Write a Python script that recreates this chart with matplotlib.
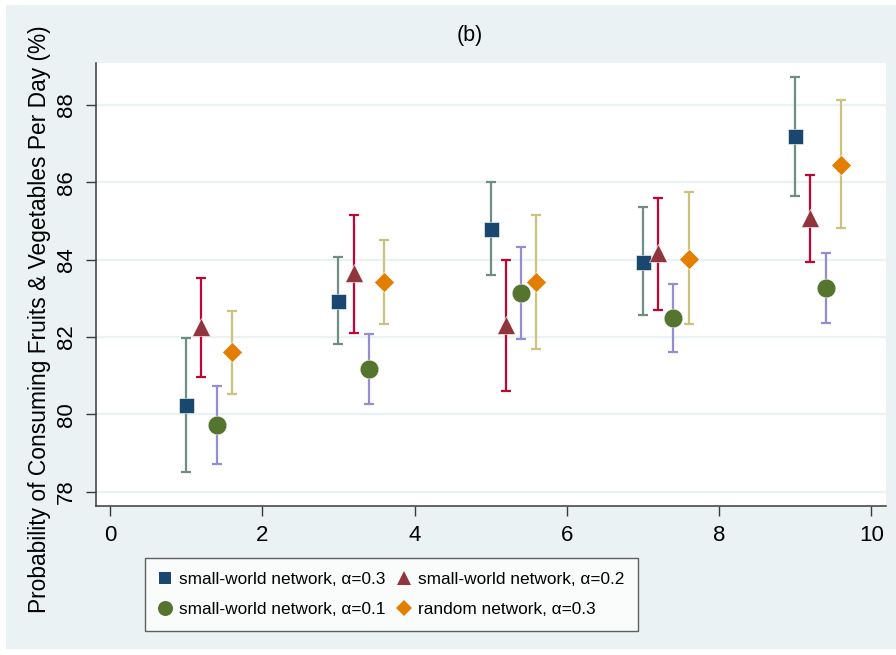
import matplotlib
matplotlib.use("Agg")
import matplotlib.pyplot as plt
from matplotlib.patches import Rectangle
from matplotlib.lines import Line2D
from matplotlib import font_manager
import numpy as np

plt.rcParams['font.family'] = ['Liberation Sans', 'DejaVu Sans']

# Simulation time points (x) for each network configuration
x_sw03 = [1, 3, 5, 7, 9]
x_sw02 = [1.2, 3.2, 5.2, 7.2, 9.2]
x_sw01 = [1.4, 3.4, 5.4, 7.4, 9.4]
x_rn03 = [1.6, 3.6, 5.6, 7.6, 9.6]

# Mean probability (%) and 95% CI bounds
y_sw03 = [80.24, 82.94, 84.80, 83.95, 87.19]
lo_sw03 = [78.50, 81.83, 83.60, 82.56, 85.65]
hi_sw03 = [81.98, 84.06, 86.01, 85.36, 88.72]

y_sw02 = [82.27, 83.65, 82.31, 84.17, 85.07]
lo_sw02 = [80.97, 82.11, 80.60, 82.70, 83.95]
hi_sw02 = [83.52, 85.16, 83.99, 85.60, 86.18]

y_sw01 = [79.73, 81.17, 83.15, 82.49, 83.27]
lo_sw01 = [78.72, 80.26, 81.94, 81.61, 82.36]
hi_sw01 = [80.74, 82.08, 84.32, 83.36, 84.17]

y_rn03 = [81.60, 83.43, 83.43, 84.03, 86.46]
lo_rn03 = [80.52, 82.34, 81.70, 82.34, 84.81]
hi_rn03 = [82.68, 84.50, 85.15, 85.75, 88.12]

labels = ["small-world network, \u03b1=0.3", "small-world network, \u03b1=0.2",
          "small-world network, \u03b1=0.1", "random network, \u03b1=0.3"]

xticks = [0, 2, 4, 6, 8, 10]
yticks = [78, 80, 82, 84, 86, 88]

# Legend uses a condensed face when one is installed
installed = {f.name for f in font_manager.fontManager.ttflist}
has_narrow = 'Liberation Sans Narrow' in installed
legend_family = ['Liberation Sans Narrow', 'Liberation Sans'] if has_narrow else ['Liberation Sans']
legend_size = 14.5 if has_narrow else 12.4

BG = "#EAF2F3"
W, H = 896, 655
fig = plt.figure(figsize=(W / 100, H / 100), dpi=100)
fig.patch.set_facecolor("white")
fig.patches.append(Rectangle((6 / W, 6 / H), 1 - 6 / W, 1 - 11 / H,
                             transform=fig.transFigure, facecolor=BG,
                             edgecolor="none", zorder=-10))

ax = fig.add_axes([95.7 / W, 1 - 505.7 / H, (886 - 95.7) / W, (505.7 - 62.7) / H])
ax.set_facecolor("white")
ax.set_xlim(-0.188, 10.193)
ax.set_ylim(77.638, 89.094)

for s in ("top", "right"):
    ax.spines[s].set_visible(False)
for s in ("left", "bottom"):
    ax.spines[s].set_color("#3a3a3a")
    ax.spines[s].set_linewidth(1.1)

ax.set_xticks(xticks)
ax.set_yticks(yticks)
ax.tick_params(axis="both", direction="out", length=7.2, width=1.0, color="#3a3a3a",
               labelsize=16, labelcolor="black")
ax.tick_params(axis="y", labelrotation=90, pad=6.5)
for lab in ax.get_yticklabels():
    lab.set_va("center")
ax.tick_params(axis="x", pad=7)
ax.grid(axis="y", color=BG, linewidth=1.6)
ax.set_axisbelow(True)

series = [
    (x_sw03, y_sw03, lo_sw03, hi_sw03, "s", "#1a476f", "#6e8e84", 10.8),
    (x_sw02, y_sw02, lo_sw02, hi_sw02, "^", "#90353b", "#c10534", 13.0),
    (x_sw01, y_sw01, lo_sw01, hi_sw01, "o", "#55752f", "#938dd2", 13.5),
    (x_rn03, y_rn03, lo_rn03, hi_rn03, "D", "#e37e00", "#cac27e", 10.4),
]

handles = []
for (xs, ys, lo, hi, mk, mc, ec, ms), lab in zip(series, labels):
    ys = np.array(ys)
    err = np.vstack([ys - np.array(lo), np.array(hi) - ys])
    ax.errorbar(xs, ys, yerr=err, fmt="none", ecolor=ec, elinewidth=1.6,
                capsize=3.8, capthick=1.6, zorder=2)
    ax.plot(xs, ys, linestyle="none", marker=mk, markersize=ms, color=mc,
            markeredgecolor="white", markeredgewidth=0.4, zorder=3)
    handles.append(Line2D([], [], linestyle="none", marker=mk, color=mc,
                          markersize=ms * 0.8, markeredgewidth=0))

fig.text(470 / W, 1 - 36 / H, "(b)", ha="center", va="center", fontsize=15.5)
fig.text(40 / W, 1 - 319 / H,
         "Probability of Consuming Fruits & Vegetables Per Day (%)",
         rotation=90, ha="center", va="center", fontsize=16.4)

order = [0, 2, 1, 3]
leg = fig.legend([handles[i] for i in order], [labels[i] for i in order],
                 ncol=2, loc="center", bbox_to_anchor=(391.5 / W, 1 - 594.5 / H),
                 frameon=True, fancybox=False,
                 prop={"family": legend_family, "size": legend_size},
                 handlelength=0.7, handletextpad=0.45, columnspacing=0.75,
                 labelspacing=0.92, borderpad=0.8, borderaxespad=0)
leg.get_frame().set_edgecolor("#3a3a3a")
leg.get_frame().set_linewidth(1.0)

fig.savefig("out.png", dpi=100)
